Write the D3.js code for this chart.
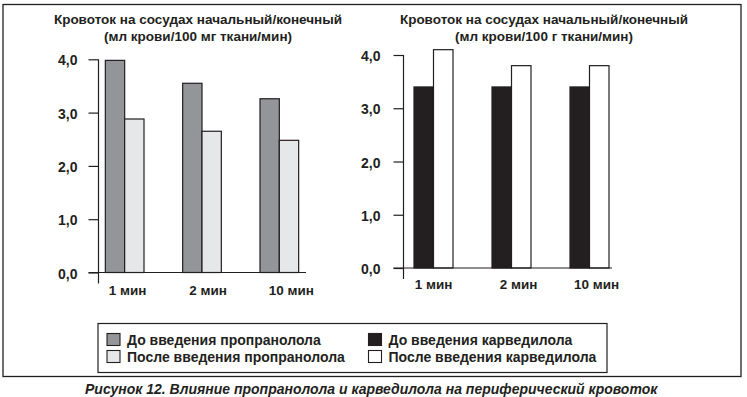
<!DOCTYPE html>
<html>
<head>
<meta charset="utf-8">
<script src="https://cdn.jsdelivr.net/npm/d3@7"></script>
<style>
  body { margin: 0; background: #fff; }
  svg text { font-family: "Liberation Sans", Arial, sans-serif; font-weight: bold; fill: #231f20; }
</style>
</head>
<body>
<svg id="chart" width="747" height="397"></svg>
<script>
// values
let categories = ["1 мин", "2 мин", "10 мин"];
let propranololBefore = [3.98, 3.55, 3.26];
let propranololAfter = [2.88, 2.65, 2.48];
let carvedilolBefore = [3.4, 3.4, 3.4];
let carvedilolAfter = [4.1, 3.8, 3.8];
let yTicks = [0, 1, 2, 3, 4];
let titleLine1 = "Кровоток на сосудах начальный/конечный";
let titlesLine2 = ["(мл крови/100 мг ткани/мин)", "(мл крови/100 г ткани/мин)"];
let legendLabels = ["До введения пропранолола", "После введения пропранолола",
                    "До введения карведилола", "После введения карведилола"];
let caption = "Рисунок 12. Влияние пропранолола и карведилола на периферический кровоток";

let ink = "#231f20";
let svg = d3.select("#chart");

// outer frame
svg.append("rect")
    .attr("x", 3).attr("y", 4.5).attr("width", 738).attr("height", 372)
    .attr("fill", "none").attr("stroke", ink).attr("stroke-width", 1.3);

let fmt = d => d3.format(".1f")(d).replace(".", ",");

function drawPanel(opt) {
    let g = svg.append("g");

    let x = d3.scaleBand().domain(categories).range(opt.xRange)
        .paddingInner(0.5).paddingOuter(0.25);
    let xs = d3.scaleBand().domain([0, 1]).range([0, x.bandwidth()]);
    let y = d3.scaleLinear().domain([0, 4]).range(opt.yRange);

    // title
    g.append("text").attr("x", opt.titleX).attr("y", 24)
        .attr("text-anchor", "middle").style("font-size", "13.5px").text(titleLine1);
    g.append("text").attr("x", opt.titleX).attr("y", 41)
        .attr("text-anchor", "middle").style("font-size", "13.5px").text(opt.title2);

    // bars
    let rows = categories.map((c, i) => ({cat: c, vals: [opt.before[i], opt.after[i]]}));
    let groups = g.selectAll(".grp").data(rows).enter().append("g")
        .attr("class", "grp")
        .attr("transform", d => "translate(" + x(d.cat) + ",0)");
    groups.selectAll("rect").data(d => d.vals).enter().append("rect")
        .attr("x", (d, i) => xs(i))
        .attr("y", d => y(d))
        .attr("width", xs.bandwidth())
        .attr("height", d => y(0) - y(d))
        .attr("fill", (d, i) => opt.colors[i])
        .attr("stroke", ink).attr("stroke-width", 1.2);

    // y axis
    let yAxis = d3.axisLeft(y).tickValues(yTicks).tickFormat(fmt)
        .tickSize(opt.tick).tickPadding(opt.pad);
    let ya = g.append("g").attr("transform", "translate(" + opt.axisX + ",0)").call(yAxis);
    ya.select(".domain").remove();
    ya.selectAll(".tick line").attr("stroke", ink).attr("stroke-width", 1.2);
    ya.selectAll(".tick text").style("font-size", "14px").attr("dy", "0.4em");

    g.append("line")
        .attr("x1", opt.axisX).attr("x2", opt.axisX)
        .attr("y1", y(4)).attr("y2", y(0) + 11)
        .attr("stroke", ink).attr("stroke-width", 1.2);
    g.append("line")
        .attr("x1", opt.axisX - opt.tick).attr("x2", opt.xEnd)
        .attr("y1", y(0)).attr("y2", y(0))
        .attr("stroke", ink).attr("stroke-width", 1.2);

    // category labels
    g.selectAll(".cat").data(categories).enter().append("text")
        .attr("class", "cat")
        .attr("x", (d, i) => x(d) + x.bandwidth() / 2 + opt.labelShift[i])
        .attr("y", opt.labelY)
        .attr("text-anchor", "middle").style("font-size", "13.5px")
        .text(d => d);
}

drawPanel({
    xRange: [86, 318], yRange: [272.5, 59.3], axisX: 98.5, xEnd: 306,
    tick: 10, pad: 11, titleX: 198, title2: titlesLine2[0],
    before: propranololBefore, after: propranololAfter,
    colors: ["#939598", "#e6e7e8"], labelShift: [3, 6, 12], labelY: 294.5
});

drawPanel({
    xRange: [394.5, 628.5], yRange: [268, 55], axisX: 403.5, xEnd: 612,
    tick: 10, pad: 13, titleX: 544, title2: titlesLine2[1],
    before: carvedilolBefore, after: carvedilolAfter,
    colors: ["#231f20", "#ffffff"], labelShift: [0, 7, 7], labelY: 288.5
});

// legend
let legendColors = ["#939598", "#e6e7e8", "#231f20", "#ffffff"];
svg.append("rect")
    .attr("x", 98).attr("y", 323.5).attr("width", 509).attr("height", 49)
    .attr("fill", "none").attr("stroke", ink).attr("stroke-width", 1.2);

let legendPos = [[107, 333.5], [107, 350.5], [368.5, 333.5], [368.5, 350.5]];
let leg = svg.selectAll(".leg").data(legendLabels).enter().append("g")
    .attr("class", "leg")
    .attr("transform", (d, i) => "translate(" + legendPos[i][0] + "," + legendPos[i][1] + ")");
leg.append("rect").attr("width", 13).attr("height", 12)
    .attr("fill", (d, i) => legendColors[i])
    .attr("stroke", ink).attr("stroke-width", 1.1);
leg.append("text").attr("x", 20).attr("y", 11)
    .style("font-size", "14px").text(d => d);

// caption
svg.append("text").attr("x", 85).attr("y", 394.3)
    .style("font-size", "14px").style("font-style", "italic")
    .text(caption);
</script>
</body>
</html>
